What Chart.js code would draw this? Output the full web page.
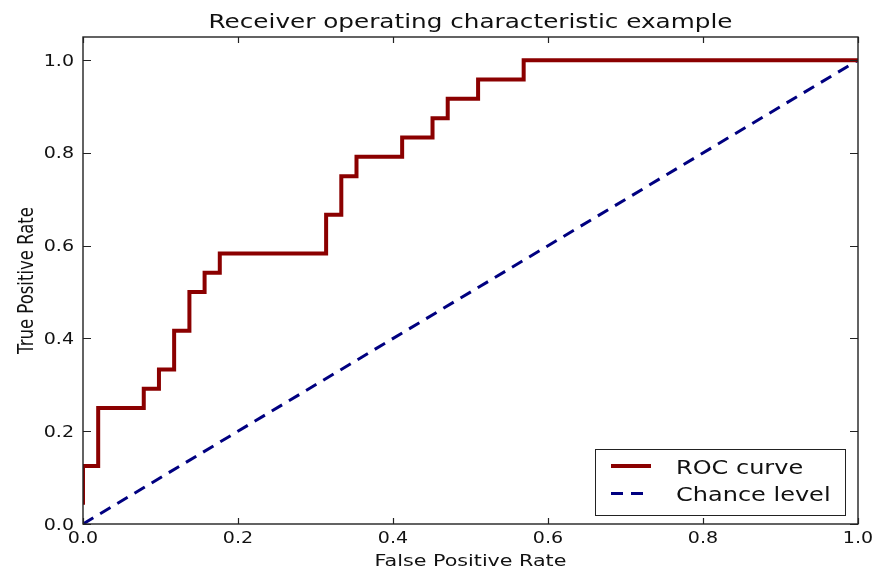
<!DOCTYPE html>
<html>
<head>
<meta charset="utf-8">
<script src="https://cdn.jsdelivr.net/npm/chart.js@4.4.1/dist/chart.umd.min.js"></script>
<style>
  html, body { margin: 0; padding: 0; background: #fff; }
  canvas { display: block; }
</style>
</head>
<body>
<canvas id="rocChart" width="875" height="569"></canvas>
<script>
// ROC curve corners
const fpr = [0, 0, 0.0196, 0.0196, 0.0784, 0.0784, 0.098, 0.098, 0.1176, 0.1176,
    0.1373, 0.1373, 0.1569, 0.1569, 0.1765, 0.1765, 0.3137, 0.3137, 0.3333, 0.3333,
    0.3529, 0.3529, 0.4118, 0.4118, 0.451, 0.451, 0.4706, 0.4706, 0.5098, 0.5098,
    0.5686, 0.5686, 1.0];
const tpr = [0.0417, 0.125, 0.125, 0.25, 0.25, 0.2917, 0.2917, 0.3333, 0.3333, 0.4167,
    0.4167, 0.5, 0.5, 0.5417, 0.5417, 0.5833, 0.5833, 0.6667, 0.6667, 0.75,
    0.75, 0.7917, 0.7917, 0.8333, 0.8333, 0.875, 0.875, 0.9167, 0.9167, 0.9583,
    0.9583, 1.0, 1.0];

// chance diagonal
const chanceX = [0, 1];
const chanceY = [0, 1];

// axis ticks
const tickValues = [0, 0.2, 0.4, 0.6, 0.8, 1.0];
const tickLabels = ["0.0", "0.2", "0.4", "0.6", "0.8", "1.0"];

const titleText = "Receiver operating characteristic example";
const xTitle = "False Positive Rate";
const yTitle = "True Positive Rate";

const FONT = "'DejaVu Sans', sans-serif";
const INK = "#111";

// the picture is stretched sideways, so text is drawn with a horizontal scale
function drawText(ctx, str, x, y, size, sx, align, rotated) {
    ctx.save();
    ctx.translate(x, y);
    ctx.scale(sx, 1);
    if (rotated) ctx.rotate(-Math.PI / 2);
    ctx.font = size + "px " + FONT;
    ctx.fillStyle = INK;
    ctx.textAlign = align;
    ctx.textBaseline = "alphabetic";
    ctx.fillText(str, 0, 0);
    ctx.restore();
}

function useTicks(scale) {
    scale.ticks = tickValues.map(v => ({ value: v }));
}

// frame, inward ticks, labels and titles
const axesPlugin = {
    id: "mplAxes",
    afterDatasetsDraw(chart) {
        const ctx = chart.ctx;
        const area = chart.chartArea;
        const xs = chart.scales.x;
        const ys = chart.scales.y;

        ctx.save();
        ctx.strokeStyle = "#222";
        ctx.lineWidth = 1.4;
        ctx.strokeRect(area.left, area.top, area.right - area.left, area.bottom - area.top);

        ctx.lineWidth = 1.2;
        ctx.beginPath();
        tickValues.forEach(v => {
            const px = Math.round(xs.getPixelForValue(v)) + 0.5;
            ctx.moveTo(px, area.bottom);
            ctx.lineTo(px, area.bottom - 6);
            ctx.moveTo(px, area.top);
            ctx.lineTo(px, area.top + 6);
            const py = Math.round(ys.getPixelForValue(v)) + 0.5;
            ctx.moveTo(area.left, py);
            ctx.lineTo(area.left + 8, py);
            ctx.moveTo(area.right, py);
            ctx.lineTo(area.right - 8, py);
        });
        ctx.stroke();
        ctx.restore();

        tickValues.forEach((v, i) => {
            drawText(ctx, tickLabels[i], xs.getPixelForValue(v), area.bottom + 19, 15, 1.27, "center");
            drawText(ctx, tickLabels[i], area.left - 9, ys.getPixelForValue(v) + 5.5, 15, 1.27, "right");
        });

        const midX = (area.left + area.right) / 2;
        const midY = (area.top + area.bottom) / 2;
        drawText(ctx, titleText, midX, 28, 19, 1.3, "center");
        drawText(ctx, xTitle, midX, 566, 16, 1.29, "center");
        drawText(ctx, yTitle, 33, midY, 16.5, 1.29, "center", true);
    }
};

// legend box in the lower right corner
const legendPlugin = {
    id: "mplLegend",
    afterDraw(chart) {
        const ctx = chart.ctx;
        const area = chart.chartArea;
        const box = { left: area.left + 512, right: area.right - 13, top: area.top + 412, bottom: area.bottom - 9 };

        ctx.save();
        ctx.fillStyle = "#fff";
        ctx.fillRect(box.left, box.top, box.right - box.left, box.bottom - box.top);
        ctx.strokeStyle = "#222";
        ctx.lineWidth = 1;
        ctx.strokeRect(box.left + 0.5, box.top + 0.5, box.right - box.left, box.bottom - box.top);

        chart.data.datasets.forEach((ds, i) => {
            const base = box.top + 24.5 + i * 27.5;
            const ly = base - 7.5;
            ctx.beginPath();
            ctx.strokeStyle = ds.borderColor;
            ctx.lineWidth = ds.borderWidth;
            ctx.setLineDash(ds.borderDash || []);
            ctx.moveTo(box.left + 16, ly);
            ctx.lineTo(box.left + 56, ly);
            ctx.stroke();
            ctx.setLineDash([]);
            drawText(ctx, ds.label, box.left + 81, base, 20, 1.2, "left");
        });
        ctx.restore();
    }
};

new Chart(document.getElementById("rocChart"), {
    type: "line",
    data: {
        datasets: [{
            label: "ROC curve",
            data: fpr.map((x, i) => ({ x: x, y: tpr[i] })),
            borderColor: "#8b0000",
            borderWidth: 4,
            pointRadius: 0,
            tension: 0,
            fill: false
        }, {
            label: "Chance level",
            data: chanceX.map((x, i) => ({ x: x, y: chanceY[i] })),
            borderColor: "#000080",
            borderWidth: 3,
            borderDash: [12, 8],
            pointRadius: 0,
            tension: 0,
            fill: false
        }]
    },
    options: {
        responsive: false,
        animation: false,
        layout: { padding: { top: 37, right: 17, left: 0, bottom: 0 } },
        plugins: {
            legend: { display: false },
            title: { display: false },
            tooltip: { enabled: false }
        },
        scales: {
            x: {
                type: "linear",
                min: 0,
                max: 1,
                grid: { display: false, drawTicks: false },
                border: { display: false },
                ticks: { display: false },
                afterBuildTicks: useTicks,
                afterFit(scale) { scale.height = 45; }
            },
            y: {
                type: "linear",
                min: 0,
                max: 1.05,
                grid: { display: false, drawTicks: false },
                border: { display: false },
                ticks: { display: false },
                afterBuildTicks: useTicks,
                afterFit(scale) { scale.width = 83; }
            }
        }
    },
    plugins: [axesPlugin, legendPlugin]
});
</script>
</body>
</html>
